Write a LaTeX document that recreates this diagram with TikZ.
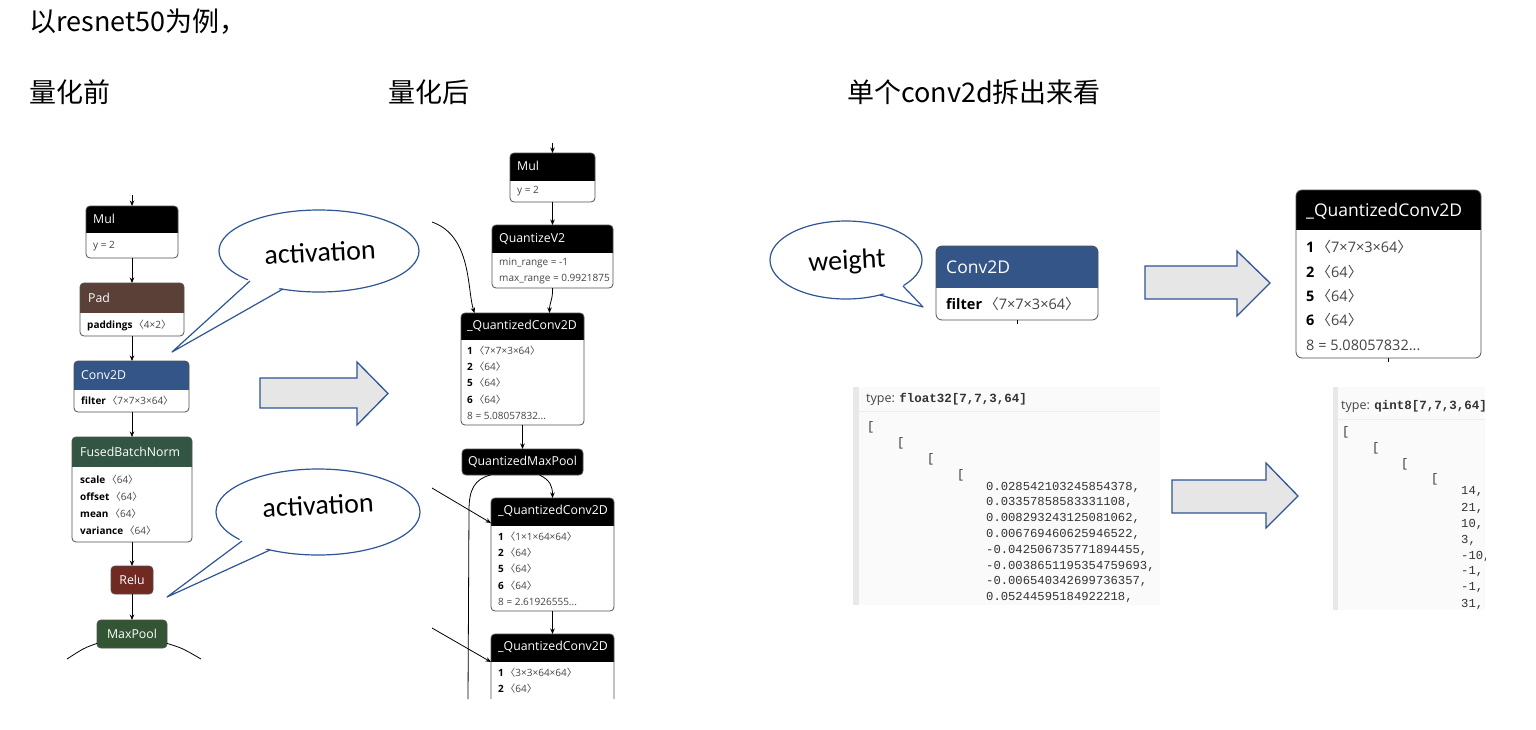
\documentclass[tikz,border=0pt]{standalone}
\usepackage{fontspec}
\setmainfont{Open Sans}
\newfontfamily\cjk{Noto Sans CJK SC}
\newfontfamily\calib{Carlito}
\newfontfamily\monof{Liberation Mono}
\usetikzlibrary{arrows.meta}
\definecolor{cPad}{HTML}{5B4038}
\definecolor{cConv}{HTML}{335588}
\definecolor{cBN}{HTML}{335544}
\definecolor{cRelu}{HTML}{702A22}
\definecolor{cPool}{HTML}{335533}
\definecolor{ofblue}{HTML}{2F5597}
\definecolor{arrfill}{HTML}{E6E6E6}
\definecolor{boxgray}{HTML}{505050}
\definecolor{valgray}{HTML}{444444}
\definecolor{panelbg}{HTML}{FAFAFA}
\definecolor{panelbar}{HTML}{E8E8E8}
\definecolor{panelsep}{HTML}{EDEDED}
\definecolor{codegray}{HTML}{333333}
\newcommand\lbl[1]{{\color{black}\bfseries #1}\hspace{0.15em}}
\newcommand\ang[1]{{\cjk 〈}#1{\cjk 〉}}
\newcommand\rr{4pt}
\newcommand\nbox[7]{%
  \node[nodebox, minimum width={#4-#2}, minimum height={#6-#3}] (#1) at ({(#2+#4)/2},{(#3+#6)/2}) {};
  \begin{scope}
    \clip (#2-2,#3-2) rectangle (#4+2,#5);
    \fill[#7, rounded corners=\rr] (#2,#3) rectangle (#4,#6);
  \end{scope}
  \draw[boxline, rounded corners=\rr] (#1.north west) rectangle (#1.south east);
}
\tikzset{
  nodebox/.style={fill=white, inner sep=0pt, outer sep=0pt, rounded corners=\rr},
  boxline/.style={draw=boxgray, line width=0.8pt},
  solidbox/.style={draw=boxgray, line width=0.8pt, rounded corners=\rr, text=white, inner sep=0pt, outer sep=0pt, font=\fontsize{12.3}{14}\selectfont},
  htext/.style={text=white, inner sep=0pt, anchor=west, font=\fontsize{12.3}{14}\selectfont},
  btext/.style={text=valgray, inner sep=0pt, anchor=west, font=\fontsize{10}{12}\selectfont},
  htextL/.style={text=white, inner sep=0pt, anchor=west, font=\fontsize{17.5}{20}\selectfont},
  btextL/.style={text=valgray, inner sep=0pt, anchor=west, font=\fontsize{14.5}{16}\selectfont},
  arr/.style={draw=black, line width=0.8pt, -{Stealth[length=5.5pt, width=4.5pt]}},
  plainline/.style={draw=black, line width=0.8pt},
  calloutline/.style={draw=ofblue, line width=1.2pt},
  blockarr/.style={draw=ofblue, line width=1.3pt, fill=arrfill, line join=miter},
  ttl/.style={anchor=west, inner sep=0pt, font=\cjk\fontsize{27}{32}\selectfont},
  calltext/.style={inner sep=0pt, font=\calib\fontsize{28}{32}\selectfont},
  codetxt/.style={anchor=west, inner sep=0pt, text=codegray, font=\monof\fontsize{12.2}{14}\selectfont},
  codehead/.style={anchor=west, inner sep=0pt, text=valgray, font=\fontsize{12.5}{14}\selectfont},
}
\begin{document}
\begin{tikzpicture}[x=1pt, y=-1pt, line join=round]
\fill[white] (0,0) rectangle (1536,729);
\useasboundingbox (0,0) rectangle (1536,729);

% ---------- titles ----------
\node[ttl] (t0) at (29,22) {以resnet50为例，};
\node[ttl] (t1) at (29,92) {量化前};
\node[ttl] (t2) at (388,92) {量化后};
\node[ttl] (t3) at (847,92) {单个conv2d拆出来看};

% ---------- left graph (before quantization) ----------
\nbox{mulA}{86}{206}{178}{232}{258}{black}
\node[htext] (mulAt) at (93,219) {Mul};
\node[btext] (mulAb) at (93,246) {y = 2};
\nbox{pad}{80}{283}{184}{312}{336}{cPad}
\node[htext] (padt) at (88,298) {Pad};
\node[btext] (padb) at (87,325) {\lbl{paddings}\ang{4×2}};
\nbox{convA}{74}{361}{189}{389}{412}{cConv}
\node[htext] (convAt) at (81,375) {Conv2D};
\node[btext] (convAb) at (81,401) {\lbl{filter}\ang{7×7×3×64}};
\nbox{bn}{72}{437}{192}{466}{542}{cBN}
\node[htext] (bnt) at (80,452) {FusedBatchNorm};
\node[btext] (bn1) at (80,480) {\lbl{scale}\ang{64}};
\node[btext] (bn2) at (80,497) {\lbl{offset}\ang{64}};
\node[btext] (bn3) at (80,514) {\lbl{mean}\ang{64}};
\node[btext] (bn4) at (80,531) {\lbl{variance}\ang{64}};
\node[solidbox, fill=cRelu, minimum width=42, minimum height=28] (relu) at (132,580) {Relu};
\node[solidbox, fill=cPool, minimum width=70, minimum height=28] (pool) at (132,634) {MaxPool};

\coordinate (inA) at (132,195);
\draw[arr] (inA) -- (mulA.north);
\draw[arr] (mulA.south) -- (pad.north);
\draw[arr] (pad.south) -- (pad.south |- convA.north);
\draw[arr] (pad.south |- convA.south) -- (pad.south |- bn.north);
\draw[arr] (bn.south) -- (relu.north);
\draw[arr] (relu.south) -- (pool.north);
\coordinate (poolL) at (67,659);
\coordinate (poolR) at (201,659);
\draw[plainline] (pool.-165) .. controls (84,648) .. (poolL);
\draw[plainline] (pool.-15) .. controls (182,648) .. (poolR);

% ---------- callouts (activation) ----------
\draw[calloutline, fill=white] (319,251) ellipse [x radius=100pt, y radius=41pt];
\fill[white] (172,352) -- (251,277) -- (285,285) -- cycle;
\draw[calloutline] (250,281) -- (172,352) -- (283,289);
\node[calltext, rotate=3] (act1) at (320,252) {activation};

\draw[calloutline, fill=white] (318,512) ellipse [x radius=102pt, y radius=43pt];
\fill[white] (167,597) -- (243,537) -- (272,546) -- cycle;
\draw[calloutline] (242,541) -- (167,597) -- (270,550);
\node[calltext, rotate=3] (act2) at (318,505) {activation};

% ---------- big arrow middle ----------
\draw[blockarr] (260,378) -- (357,378) -- (357,362) -- (388,393.5) -- (357,425) -- (357,408) -- (260,408) -- cycle;

% ---------- middle graph (after quantization) ----------
\nbox{mulB}{510}{153}{595}{180}{202}{black}
\node[htext] (mulBt) at (517,166) {Mul};
\node[btext] (mulBb) at (517,191) {y = 2};
\nbox{qv2}{492}{225}{613}{252}{288}{black}
\node[htext] (qv2t) at (499,239) {QuantizeV2};
\node[btext] (qv2a) at (499,263) {min\_range = -1};
\node[btext] (qv2b) at (499,279) {max\_range = 0.9921875};
\nbox{qc1}{461}{313}{584}{339}{425}{black}
\node[htext] (qc1t) at (467,326) {\_QuantizedConv2D};
\node[btext] (qc1a) at (467,351) {\lbl{1}\ang{7×7×3×64}};
\node[btext] (qc1b) at (467,367) {\lbl{2}\ang{64}};
\node[btext] (qc1c) at (467,383) {\lbl{5}\ang{64}};
\node[btext] (qc1d) at (467,400) {\lbl{6}\ang{64}};
\node[btext] (qc1e) at (467,416) {8 = 5.08057832...};
\node[solidbox, fill=black, minimum width=121, minimum height=26] (qpool) at (522.5,462) {QuantizedMaxPool};
\nbox{qc2}{491}{498}{614}{525}{611}{black}
\node[htext] (qc2t) at (498,511) {\_QuantizedConv2D};
\node[btext] (qc2a) at (498,537) {\lbl{1}\ang{1×1×64×64}};
\node[btext] (qc2b) at (498,553) {\lbl{2}\ang{64}};
\node[btext] (qc2c) at (498,569) {\lbl{5}\ang{64}};
\node[btext] (qc2d) at (498,586) {\lbl{6}\ang{64}};
\node[btext] (qc2e) at (498,602) {8 = 2.61926555...};
\begin{scope}
\clip (400,620) rectangle (640,698);
\nbox{qc3}{491}{634}{614}{661}{730}{black}
\node[htext] (qc3t) at (498,647) {\_QuantizedConv2D};
\node[btext] (qc3a) at (498,673) {\lbl{1}\ang{3×3×64×64}};
\node[btext] (qc3b) at (498,689) {\lbl{2}\ang{64}};
\end{scope}

\coordinate (inB) at (552.5,143);
\draw[arr] (inB) -- (mulB.north);
\draw[arr] (mulB.south) -- (qv2.north);
\draw[arr] (qv2.south) .. controls (553,300) and (549.5,302) .. ([xshift=27pt]qc1.north);
\coordinate (inC) at (432,222);
\draw[arr] (inC) .. controls (472,236) and (467,290) .. ([xshift=-48pt]qc1.north);
\draw[arr] (qc1.south) -- (qpool.north);
\draw[arr] ([xshift=17pt]qpool.south) .. controls (550,480) and (552.5,486) .. (qc2.north);
\coordinate (poolDown) at (468,699);
\draw[plainline] ([xshift=-32pt]qpool.south) .. controls (475,479) and (469,489) .. (469,510) -- (poolDown);
\coordinate (inD) at (432,488);
\draw[arr] (inD) -- ([yshift=-25pt]qc2.north west);
\draw[arr] (qc2.south) -- (qc3.north);
\coordinate (inE) at (432,628);
\draw[arr] (inE) -- ([yshift=-28pt]qc3.north west);

% ---------- right: single conv2d ----------
\draw[calloutline, fill=white] (846,260) ellipse [x radius=76pt, y radius=39pt];
\fill[white] (923,307) -- (901,283) -- (879,292) -- cycle;
\draw[calloutline] (903,286) -- (923,307) -- (880,295);
\node[calltext, rotate=3] (wgt) at (847,262) {weight};

\renewcommand\rr{6pt}
\nbox{convR}{936}{246}{1098}{287}{320}{cConv}
\node[htextL] (convRt) at (946,267) {Conv2D};
\node[btextL] (convRb) at (946,304) {\lbl{filter}\ang{7×7×3×64}};
\draw[plainline] (convR.south) -- ++(0,4);

\draw[blockarr] (1145,266) -- (1237,266) -- (1237,251) -- (1270,283) -- (1237,316) -- (1237,299) -- (1145,299) -- cycle;

\nbox{qcR}{1296}{190}{1481}{229}{358}{black}
\node[htextL] (qcRt) at (1306,211) {\_QuantizedConv2D};
\node[btextL] (qcRa) at (1306,247) {\lbl{1}\ang{7×7×3×64}};
\node[btextL] (qcRb) at (1306,272) {\lbl{2}\ang{64}};
\node[btextL] (qcRc) at (1306,296) {\lbl{5}\ang{64}};
\node[btextL] (qcRd) at (1306,320) {\lbl{6}\ang{64}};
\node[btextL] (qcRe) at (1306,345) {8 = 5.08057832...};
\draw[plainline] (qcR.south) -- ++(0,4);

% ---------- code panels ----------
\fill[panelbg] (853,387) rectangle (1160,605);
\fill[panelbar] (853,387) rectangle (859,605);
\draw[panelsep, line width=0.8pt] (859,411) -- (1160,411);
\node[codehead] (ph1) at (866,399) {type: {\monof\bfseries\color{codegray}float32[7,7,3,64]}};
\node[codetxt] (b1) at (867,427) {[};
\node[codetxt] (b2) at (897,443) {[};
\node[codetxt] (b3) at (927,459) {[};
\node[codetxt] (b4) at (957,475) {[};
\foreach \v [count=\i from 0] in {{0.028542103245854378,},{0.03357858583331108,},{0.008293243125081062,},{0.006769460625946522,},{-0.042506735771894455,},{-0.0038651195354759693,},{-0.006540342699736357,},{0.05244595184922218,}}
  \node[codetxt] (fv\i) at (986,{487+15.8*\i}) {\v};

\draw[blockarr] (1172,480) -- (1266,480) -- (1266,463) -- (1298,496) -- (1266,528) -- (1266,513) -- (1172,513) -- cycle;

\begin{scope}
\clip (1333,380) rectangle (1485,612);
\fill[panelbg] (1333,387) rectangle (1485,610);
\fill[panelbar] (1333,387) rectangle (1338,610);
\draw[panelsep, line width=0.8pt] (1338,419) -- (1485,419);
\node[codehead] (ph2) at (1341,406) {type: {\monof\bfseries\color{codegray}qint8[7,7,3,64]}};
\node[codetxt] (c1) at (1342,432) {[};
\node[codetxt] (c2) at (1372,448) {[};
\node[codetxt] (c3) at (1401,464) {[};
\node[codetxt] (c4) at (1431,479) {[};
\foreach \v [count=\i from 0] in {{14,},{21,},{10,},{3,},{-10,},{-1,},{-1,},{31,}}
  \node[codetxt] (qv\i) at (1461,{492+16*\i}) {\v};
\end{scope}
\end{tikzpicture}
\end{document}
